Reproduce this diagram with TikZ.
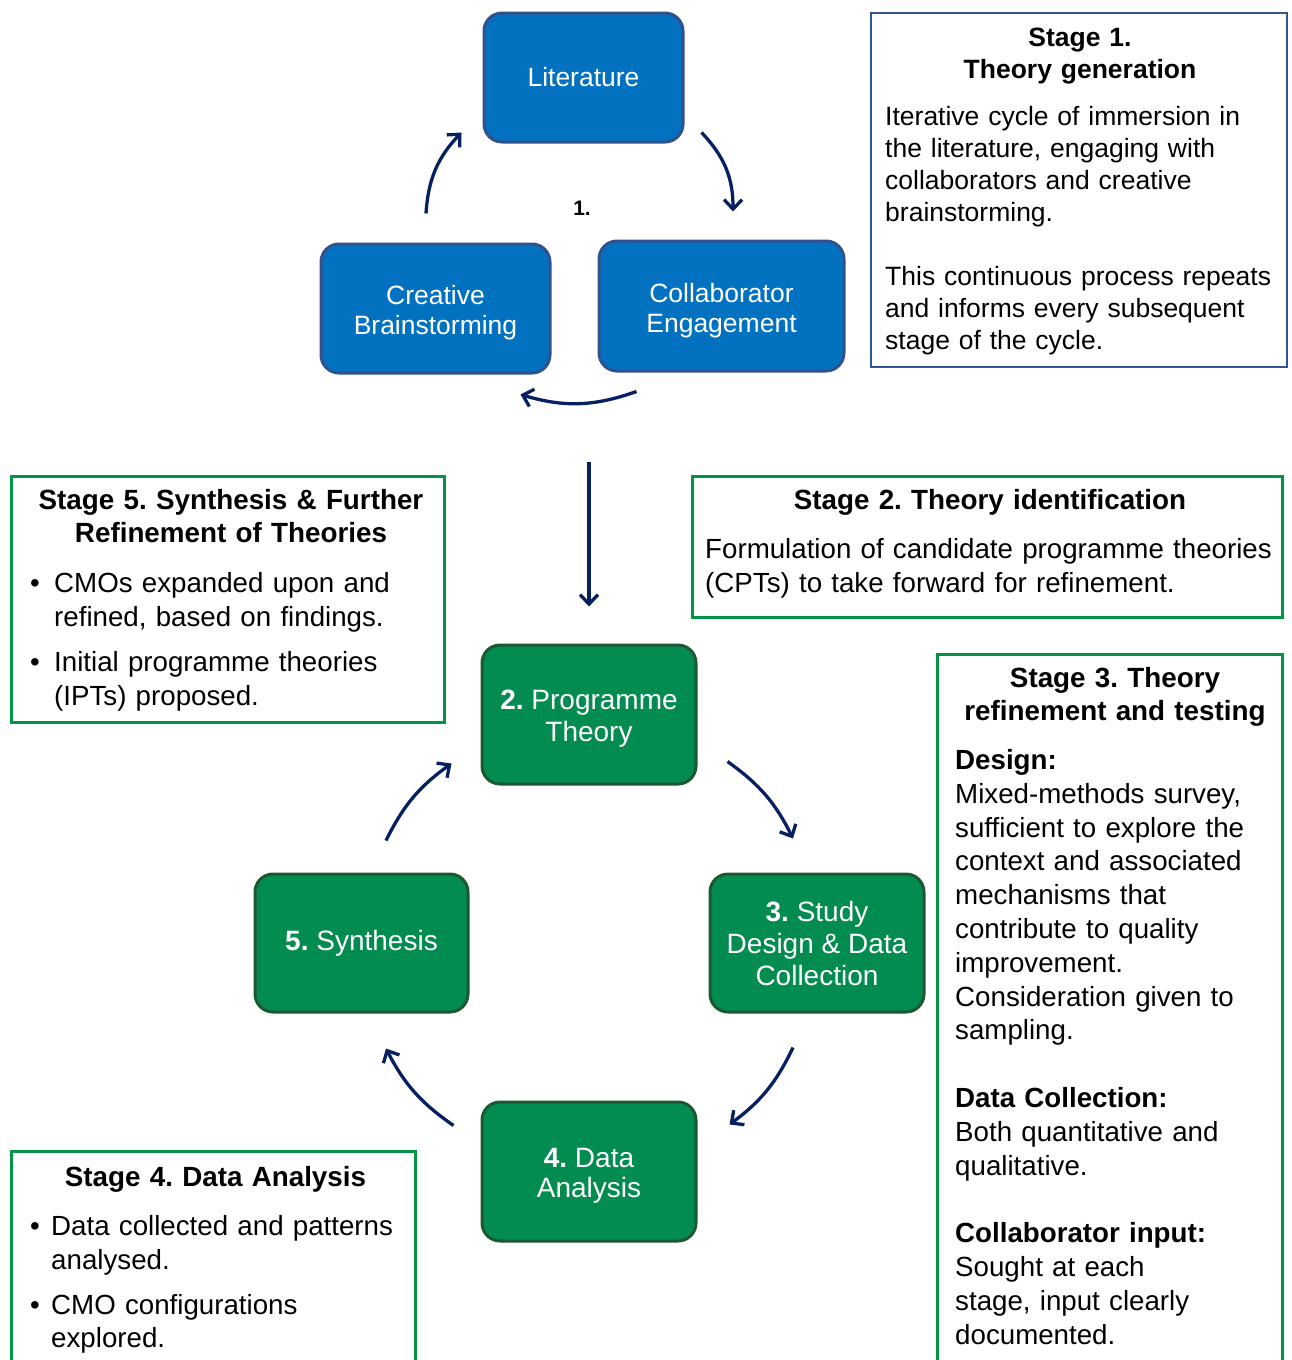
\documentclass[tikz,border=0pt]{standalone}
\usepackage{fontspec}
\setmainfont{Liberation Sans}
\usetikzlibrary{arrows.meta,calc}
\frenchspacing

\definecolor{litblue}{RGB}{2,114,192}
\definecolor{litedge}{RGB}{47,82,143}
\definecolor{stepgreen}{RGB}{3,140,80}
\definecolor{stepedge}{RGB}{28,88,50}
\definecolor{framegreen}{RGB}{0,150,70}
\definecolor{frameblue}{RGB}{47,85,151}
\definecolor{arrownavy}{RGB}{6,32,98}

\newcommand\bulA{\makebox[24pt][l]{•}}
\newcommand\bulB{\makebox[21pt][l]{•}}
% taller first line, so that two-line labels sit a little lower in their box
\newcommand\bluelead{\rule{0pt}{27.5pt}}
\newcommand\greenlead{\rule{0pt}{28pt}}

\tikzset{
  bluestep/.style={draw=litedge, fill=litblue, line width=3pt, rounded corners=18pt,
    text=white, align=center, inner sep=0pt, font=\fontsize{26.5}{30}\selectfont},
  greenstep/.style={draw=stepedge, fill=stepgreen, line width=3pt, rounded corners=18pt,
    text=white, align=center, inner sep=0pt, font=\fontsize{28}{32}\selectfont},
  cyclearrow/.style={draw=arrownavy, line width=3.3pt,
    -{Straight Barb[length=9.5pt,width=18pt]}},
  blueframe/.style={draw=frameblue, line width=2.5pt},
  greenframe/.style={draw=framegreen, line width=3pt},
  titletext/.style={anchor=base, inner sep=0pt, align=center, text width=420pt,
    font=\bfseries\fontsize{27.8}{33}\selectfont},
  bodytext/.style={anchor=base west, inner sep=0pt, align=left,
    font=\fontsize{27.7}{33.8}\selectfont},
}

\begin{document}
\begin{tikzpicture}[x=1pt,y=-1pt]
\useasboundingbox (0,0) rectangle (1292,1360);
\clip (0,0) rectangle (1292,1360);
\fill[white] (0,0) rectangle (1292,1360);

% ---------- Stage 1 cycle ----------
\node[bluestep, minimum width=199pt, minimum height=129pt] (lit) at (583.5,77.5) {Literature};
\node[bluestep, minimum width=229pt, minimum height=129pt] (crea) at (435.5,308.5) {\bluelead Creative\\Brainstorming};
\node[bluestep, minimum width=245pt, minimum height=130pt] (coll) at (721.5,306) {\bluelead Collaborator\\Engagement};
\node[font=\bfseries\fontsize{21}{24}\selectfont, inner sep=0pt] (cyclab) at (582,208) {1.};

\draw[cyclearrow] ($(lit.south east)+(17,-11)$) to[bend left=22] ($(coll.north)+(11.5,-28)$);
\draw[cyclearrow] ($(coll.south west)+(39,19)$) to[bend left=18] ($(crea.south east)+(-31,20)$);
\draw[cyclearrow] ($(crea.north)+(-9.5,-29)$) to[bend left=20] ($(lit.south west)+(-21,-11)$);

% ---------- Stage 1 description ----------
\draw[blueframe] (871,13) rectangle (1287,367);
\node[titletext, font=\bfseries\fontsize{26.5}{32}\selectfont] (s1title) at (1080,46.5) {Stage 1.\\Theory generation};
\node[bodytext, text width=400pt, font=\fontsize{26.5}{32}\selectfont] (s1body) at (885,125.5)
  {Iterative cycle of immersion in\\the literature, engaging with\\collaborators and creative\\brainstorming.\\[32pt]This continuous process repeats\\and informs every subsequent\\stage of the cycle.};

% ---------- Link into the main cycle ----------
\coordinate (cycout) at (589,462);

% ---------- Main cycle ----------
\node[greenstep, minimum width=214pt, minimum height=139pt] (pt) at (589,714.5) {\greenlead\textbf{2.} Programme\\Theory};
\node[greenstep, minimum width=214pt, minimum height=138pt] (sd) at (817,943) {\textbf{3.} Study\\Design \& Data\\Collection};
\node[greenstep, minimum width=213pt, minimum height=138pt] (syn) at (361.5,943) {\textbf{5.} Synthesis};
\node[greenstep, minimum width=214pt, minimum height=139pt, font=\fontsize{28}{29.5}\selectfont] (da) at (589,1171.5) {\greenlead\textbf{4.} Data\\Analysis};

\draw[cyclearrow, shorten >=37pt] (cycout) -- (pt.north);

\draw[cyclearrow] ($(pt.south east)+(30,-24)$) to[bend left=14] ($(sd.north)+(-24,-34)$);
\draw[cyclearrow] ($(sd.south)+(-24,34)$) to[bend left=14] ($(da.north east)+(32,24)$);
\draw[cyclearrow] ($(da.north west)+(-27,25)$) to[bend left=14] ($(syn.south)+(24.5,35)$);
\draw[cyclearrow] ($(syn.north)+(24.5,-32)$) to[bend left=14] ($(pt.south west)+(-29,-22)$);

% ---------- Stage 2 description ----------
\draw[greenframe] (692,476) rectangle (1282,617);
\node[titletext] (s2title) at (990,509.5) {Stage 2. Theory identification};
\node[bodytext, text width=580pt] (s2body) at (705,558.5)
  {Formulation of candidate programme theories\\(CPTs) to take forward for refinement.};

% ---------- Stage 3 description ----------
\draw[greenframe] (937,654) rectangle (1282,1380);
\node[titletext] (s3title) at (1115,687.5) {Stage 3. Theory\\refinement and testing};
\node[bodytext, text width=330pt] (s3body) at (955,769.5)
  {\textbf{Design:}\\Mixed-methods survey,\\sufficient to explore the\\context and associated\\mechanisms that\\contribute to quality\\improvement.\\Consideration given to\\sampling.\\[33.8pt]\textbf{Data Collection:}\\Both quantitative and\\qualitative.\\[33.8pt]\textbf{Collaborator input:}\\Sought at each\\stage, input clearly\\documented.};

% ---------- Stage 5 description ----------
\draw[greenframe] (11,476) rectangle (444,722);
\node[titletext] (s5title) at (231,509.5) {Stage 5. Synthesis \& Further\\Refinement of Theories};
\node[bodytext, text width=420pt] (s5body) at (30,592.5)
  {\bulA CMOs expanded upon and\\\hspace*{24pt}refined, based on findings.\\[11.5pt]\bulA Initial programme theories\\\hspace*{24pt}(IPTs) proposed.};

% ---------- Stage 4 description ----------
\draw[greenframe] (11,1151) rectangle (415,1380);
\node[titletext] (s4title) at (215.5,1186.5) {Stage 4. Data Analysis};
\node[bodytext, text width=400pt] (s4body) at (30,1235.5)
  {\bulB Data collected and patterns\\\hspace*{21pt}analysed.\\[11pt]\bulB CMO configurations\\\hspace*{21pt}explored.};
\end{tikzpicture}
\end{document}
